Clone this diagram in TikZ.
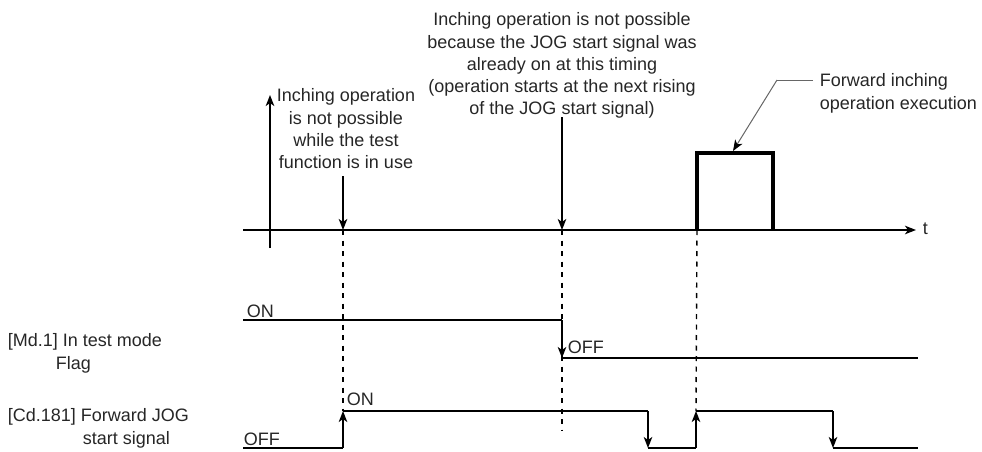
\documentclass[tikz,border=0pt]{standalone}
\usepackage{fontspec}
\setmainfont{Liberation Sans}
\usetikzlibrary{arrows.meta}

\begin{document}
\begin{tikzpicture}[
        % 坐标以像素为单位，y 轴向下
        x={(1pt,0pt)},
        y={(0pt,-1pt)},
        line width=1.6pt,
        >={Stealth[length=11pt,width=8.5pt,inset=3pt]},
        lbl/.style={font=\fontsize{18}{22.2}\selectfont, text=black!85, inner sep=0pt},
        guide/.style={dash pattern=on 5pt off 5.5pt, line width=1.4pt},
        pulse/.style={line width=4pt, line join=miter},
        leader/.style={line width=1pt, black!60}
    ]
    \useasboundingbox (0,0) rectangle (982,452);

    % 定义时间点与电平
    \def\ta{343}
    \def\tb{562}
    \def\tc{696}
    \def\axy{230}

    % --- 坐标轴 ---
    \coordinate (O1) at (270,248);
    \coordinate (O2) at (270,95);
    \coordinate (T0) at (243,\axy);
    \coordinate (T1) at (916,\axy);
    \draw[->] (O1) -- (O2);
    \draw[->] (T0) -- (T1);
    \node[lbl, anchor=west] (tlbl) at (922,229) {t};

    % --- 正向寸动输出脉冲 ---
    \coordinate (P0) at (697,\axy);
    \coordinate (P1) at (697,153);
    \coordinate (P2) at (773,153);
    \coordinate (P3) at (773,\axy);
    \draw[pulse] (P0) -- (P1) -- (P2) -- (P3);

    % --- 说明文字 ---
    \node[lbl, align=center, anchor=north] (txtA) at (346,88)
        {Inching operation\\is not possible\\while the test\\function is in use};
    \node[lbl, align=center, anchor=north] (txtB) at (562,12)
        {Inching operation is not possible\\because the JOG start signal was\\already on at this timing\\(operation starts at the next rising\\of the JOG start signal)};
    \node[lbl, align=left, anchor=north west] (txtC) at (819,73)
        {Forward inching\\operation execution};

    % 文字指向时间轴的箭头
    \coordinate (A0) at (\ta,176);
    \coordinate (A1) at (\ta,\axy);
    \coordinate (B0) at (\tb,117);
    \coordinate (B1) at (\tb,\axy);
    \draw[->] (A0) -- (A1);
    \draw[->] (B0) -- (B1);

    % 引出线
    \coordinate (L0) at (813,80);
    \coordinate (L1) at (777,80);
    \coordinate (L2) at (733,151);
    \draw[leader] (L0) -- (L1);
    \draw[leader, -{Stealth[length=11pt,width=8.5pt,inset=3pt,black]}] (L1) -- (L2);

    % --- 虚线 ---
    \coordinate (D1) at (\ta,411);
    \coordinate (D2) at (\tb,430);
    \coordinate (D3) at (\tc,411);
    \draw[guide] (A1) -- (D1);
    \draw[guide] (B1) -- (D2);
    \draw[guide] (P0) -- (D3);

    % --- [Md.1] 信号 ---
    \coordinate (M0) at (243,320);
    \coordinate (M1) at (\tb,320);
    \coordinate (M2) at (\tb,358);
    \coordinate (M3) at (918,358);
    \draw (M0) -- (M1);
    \draw[->] (M1) -- (M2);
    \draw (M2) -- (M3);
    \node[lbl, anchor=base west] (mdon) at (246,317) {ON};
    \node[lbl, anchor=base west] (mdoff) at (567,353) {OFF};
    \node[lbl, align=left, anchor=north west] (mdlbl) at (7,333)
        {[Md.1] In test mode\\\hspace*{48pt}Flag};

    % --- [Cd.181] 信号 ---
    \coordinate (C0) at (243,448);
    \coordinate (C1) at (\ta,448);
    \coordinate (C2) at (\ta,411);
    \coordinate (C3) at (648,411);
    \coordinate (C4) at (648,448);
    \coordinate (C5) at (\tc,448);
    \coordinate (C6) at (\tc,411);
    \coordinate (C7) at (833,411);
    \coordinate (C8) at (833,448);
    \coordinate (C9) at (918,448);
    \draw (C0) -- (C1);
    \draw[->] (C1) -- (C2);
    \draw (C2) -- (C3);
    \draw[->] (C3) -- (C4);
    \draw (C4) -- (C5);
    \draw[->] (C5) -- (C6);
    \draw (C6) -- (C7);
    \draw[->] (C7) -- (C8);
    \draw (C8) -- (C9);
    \node[lbl, anchor=base west] (cdon) at (346,405) {ON};
    \node[lbl, anchor=base west] (cdoff) at (243,445) {OFF};
    \node[lbl, align=left, anchor=north west] (cdlbl) at (7,408)
        {[Cd.181] Forward JOG\\\hspace*{75pt}start signal};

\end{tikzpicture}
\end{document}
